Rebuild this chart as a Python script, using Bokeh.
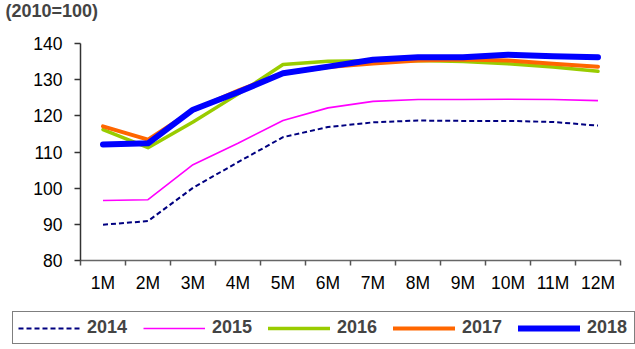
from bokeh.plotting import figure
from bokeh.models import FixedTicker, Legend, LegendItem, Range1d, Label
from bokeh.layouts import column
from bokeh.embed import file_html
from bokeh.resources import INLINE

months = ["1M", "2M", "3M", "4M", "5M", "6M", "7M", "8M", "9M", "10M", "11M", "12M"]
y2014 = [89.9, 90.9, 100.1, 107.2, 114.1, 116.9, 118.2, 118.7, 118.6, 118.6, 118.3, 117.3]
y2015 = [96.6, 96.8, 106.5, 112.4, 118.7, 122.2, 124.0, 124.5, 124.5, 124.6, 124.5, 124.2]
y2016 = [116.2, 111.2, 118.3, 126.0, 134.2, 135.1, 135.2, 135.3, 135.0, 134.4, 133.5, 132.3]
y2017 = [117.1, 113.4, 121.5, 127.0, 131.7, 133.5, 134.5, 135.3, 135.6, 135.3, 134.4, 133.6]
y2018 = [112.1, 112.4, 121.7, 126.5, 131.8, 133.6, 135.5, 136.2, 136.2, 136.9, 136.5, 136.2]
years = ["2014", "2015", "2016", "2017", "2018"]
y_ticks = [80, 90, 100, 110, 120, 130, 140]
unit_label = "(2010=100)"

FONT = "Liberation Sans"
xs = list(range(1, len(months) + 1))

styles = [
    dict(line_color="#000080", line_width=2, line_dash="5 3"),
    dict(line_color="#FF00FF", line_width=1.6),
    dict(line_color="#99CC00", line_width=3.5, line_cap="round", line_join="round"),
    dict(line_color="#FF6600", line_width=4, line_cap="round", line_join="round"),
    dict(line_color="#0000FF", line_width=6, line_cap="round", line_join="round"),
]
series = [y2014, y2015, y2016, y2017, y2018]

# unit label strip on top
p0 = figure(width=635, height=22, min_border=0, output_backend="svg", toolbar_location=None,
            x_axis_type=None, y_axis_type=None, x_range=Range1d(0, 1), y_range=Range1d(0, 1))
p0.frame_align = False
p0.outline_line_color = None
p0.grid.visible = False
p0.title_location = None
p0.add_layout(Label(x=5, y=22, x_units="screen", y_units="screen", text=unit_label,
                    text_font=FONT, text_font_size="18px", text_font_style="bold",
                    text_baseline="top", text_align="left"))

p = figure(width=635, height=278, frame_width=540, frame_height=217,
           min_border_left=80, min_border_right=15, min_border_top=21, min_border_bottom=40,
           output_backend="svg", toolbar_location=None,
           x_range=Range1d(0.5, len(months) + 0.5), y_range=Range1d(80, 140))
p.frame_align = False
p.outline_line_color = None
p.grid.visible = False
p.title_location = None

# x axis
p.xaxis.ticker = FixedTicker(ticks=xs, minor_ticks=[i + 0.5 for i in range(0, len(months) + 1)])
p.xaxis.major_label_overrides = {i: m for i, m in zip(xs, months)}
p.xaxis.major_tick_line_color = None
p.xaxis.major_tick_out = 5
p.xaxis.major_tick_in = 0
p.xaxis.minor_tick_out = 5
p.xaxis.minor_tick_in = 0
p.xaxis.minor_tick_line_color = "#555555"
p.xaxis.minor_tick_line_width = 1.5
p.xaxis.axis_line_color = "#666666"
p.xaxis.axis_line_width = 1.5
p.xaxis.major_label_standoff = 7

# y axis
p.yaxis.ticker = FixedTicker(ticks=y_ticks)
p.yaxis.minor_tick_line_color = None
p.yaxis.major_tick_out = 6
p.yaxis.major_tick_in = 0
p.yaxis.major_tick_line_color = "#333333"
p.yaxis.major_tick_line_width = 1.5
p.yaxis.axis_line_color = "#333333"
p.yaxis.axis_line_width = 1.5
p.yaxis.major_label_standoff = 12

for ax in (p.xaxis, p.yaxis):
    ax.major_label_text_font = FONT
    ax.major_label_text_font_size = "17.5px"
    ax.major_label_text_color = "black"

for ys, st in zip(series, styles):
    p.line(xs, ys, **st)

# legend in its own strip below the chart (its lines lie outside this strip's view)
p2 = figure(width=635, height=49, min_border=0, output_backend="svg", toolbar_location=None,
            x_axis_type=None, y_axis_type=None, x_range=Range1d(-1, 0), y_range=Range1d(-1, 0))
p2.frame_align = False
p2.outline_line_color = None
p2.grid.visible = False
p2.title_location = None
items = []
for yr, ys, st in zip(years, series, styles):
    r = p2.line(xs, ys, **st)
    items.append(LegendItem(label=yr, renderers=[r]))

legend = Legend(items=items, orientation="horizontal", location=(12, 5),
                glyph_width=62, glyph_height=20, label_standoff=7, spacing=14,
                padding=5, margin=0, label_height=20, label_width=42,
                label_text_font=FONT, label_text_font_size="18px", label_text_font_style="bold",
                border_line_color="black", border_line_width=1, background_fill_alpha=1)
p2.add_layout(legend, "center")

open("out.html", "w").write(file_html(column(p0, p, p2, spacing=0), INLINE))
